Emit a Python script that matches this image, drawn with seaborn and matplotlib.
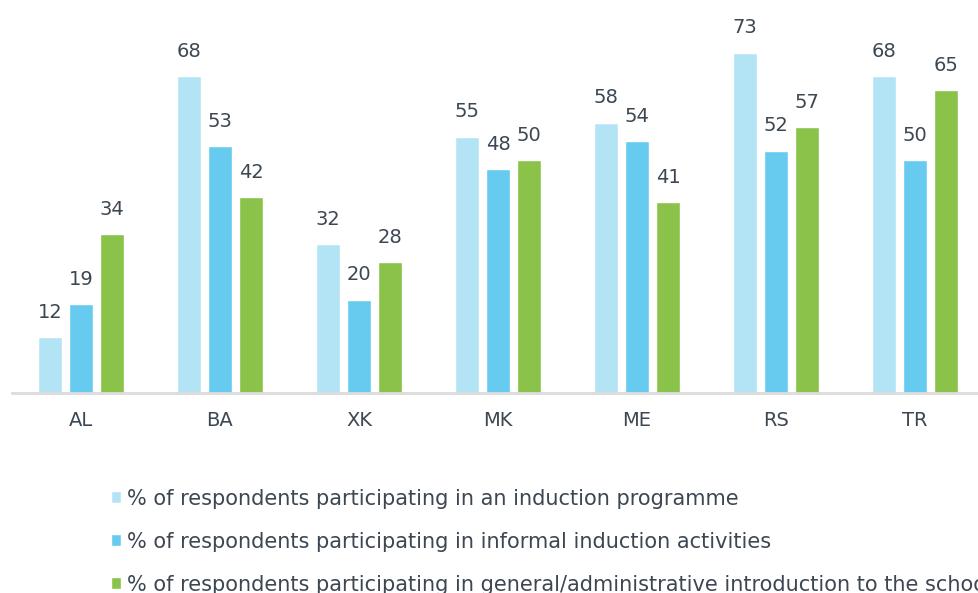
import matplotlib
matplotlib.use("Agg")
import matplotlib.pyplot as plt
import seaborn as sns
import pandas as pd

categories = ["AL", "BA", "XK", "MK", "ME", "RS", "TR"]
series_names = [
    "% of respondents participating in an induction programme",
    "% of respondents participating in informal induction activities",
    "% of respondents participating in general/administrative introduction to the school",
]
induction = [12, 68, 32, 55, 58, 73, 68]
informal = [19, 53, 20, 48, 54, 52, 50]
general = [34, 42, 28, 50, 41, 57, 65]
colors = ["#b3e4f6", "#66cbef", "#8bc34a"]

rows = []
for name, vals in zip(series_names, [induction, informal, general]):
    for c, v in zip(categories, vals):
        rows.append({"country": c, "series": name, "value": v})
df = pd.DataFrame(rows)

sns.set_theme(style="white")
plt.rcParams["font.family"] = ["DejaVu Sans"]
text_color = "#3d4752"

fig = plt.figure(figsize=(9.79, 5.93), dpi=100)
W, H = 979, 593
ax = fig.add_axes([11.5 / W, (H - 393) / H, 973 / W, 393 / H])

sns.barplot(data=df, x="country", y="value", hue="series", palette=colors,
            width=0.67, gap=0.23, ax=ax, saturation=1, errorbar=None,
            order=categories, hue_order=series_names)

for cont in ax.containers:
    ax.bar_label(cont, padding=11, fontsize=14, color=text_color)

ax.set_ylim(0, 84.3)
ax.set_xlim(-0.5, 6.5)
ax.set_xlabel("")
ax.set_ylabel("")
ax.set_yticks([])
for s in ["top", "left", "right"]:
    ax.spines[s].set_visible(False)
ax.spines["bottom"].set_color("#dcdcdc")
ax.spines["bottom"].set_linewidth(2)
ax.tick_params(axis="x", length=0, pad=13, labelsize=14, labelcolor=text_color)

sns.move_legend(ax, "upper left", bbox_to_anchor=(92 / W, 1 - 470 / H),
                bbox_transform=fig.transFigure, frameon=False, title=None,
                ncol=1, fontsize=15, labelspacing=1.1, handlelength=0.5,
                handleheight=0.5, handletextpad=0.3, labelcolor=text_color)

fig.savefig("out.png", dpi=100)
